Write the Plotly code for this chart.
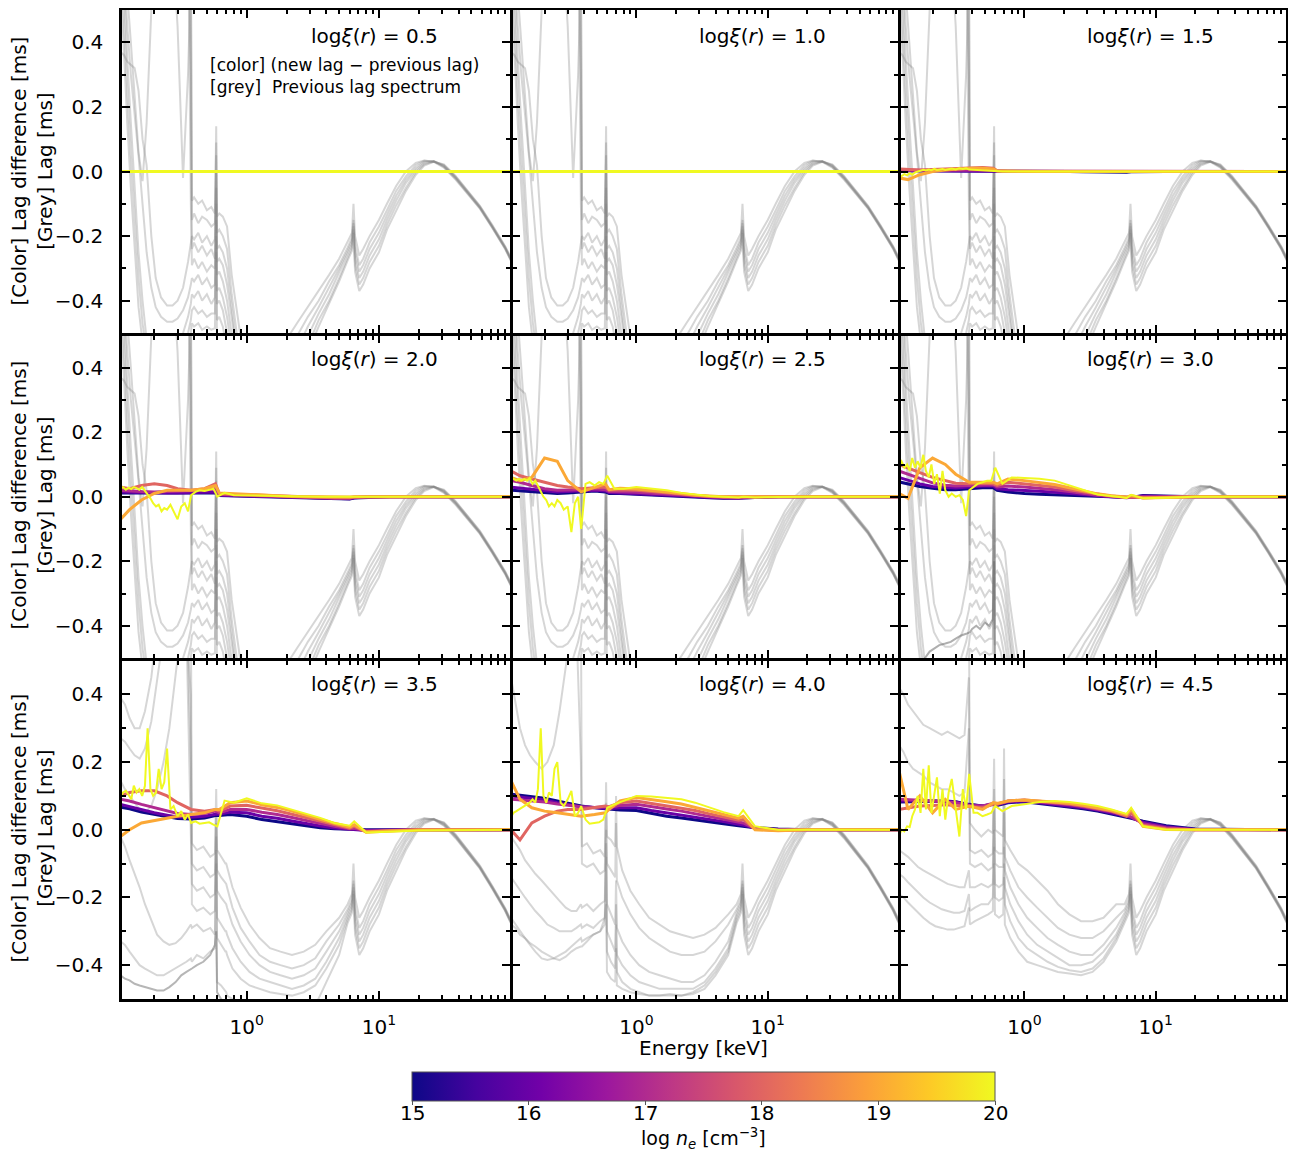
import math
import plotly.graph_objects as go
from plotly.colors import sample_colorscale

# ---------------- data ----------------
XI_LABELS = ["0.5", "1.0", "1.5", "2.0", "2.5", "3.0", "3.5", "4.0", "4.5"]
LOG_NE = [15, 16, 17, 18, 19, 20]

# grey: previous lag spectra, low-energy part (rows 1-2)
GA_E = [0.111, 0.118, 0.125, 0.133, 0.142, 0.152, 0.163, 0.175, 0.19, 0.205, 0.225, 0.25, 0.275, 0.30, 0.33, 0.36,
        0.378, 0.385, 0.40, 0.43, 0.46, 0.50, 0.54, 0.575, 0.588, 0.595, 0.62, 0.66, 0.71, 0.77, 0.84, 0.95]
GA1 = [0.62, 0.66, 0.70, 0.75, 0.80, 0.80, 0.80, 0.80, 0.80, 0.80, 0.80, 0.80, 0.80, 0.80, 0.80, 0.80, 0.80, -0.09,
       -0.08, -0.10, -0.09, -0.12, -0.11, -0.13, 0.14, -0.14, -0.13, -0.14, -0.17, -0.32, -0.43, -0.58]
GA2 = [0.90, 0.70, 0.55, 0.40, 0.22, 0.06, -0.03, 0.15, 0.50, 0.70, 0.80, 0.80, 0.70, 0.45, -0.02, 0.30, 0.60, -0.15,
       -0.13, -0.16, -0.14, -0.15, -0.17, -0.16, 0.09, -0.19, -0.18, -0.20, -0.24, -0.38, -0.50, -0.65]
GA3 = [0.37, 0.36, 0.34, 0.33, 0.32, 0.25, 0.10, 0.02, -0.20, -0.33, -0.39, -0.415, -0.415, -0.40, -0.36, -0.28,
       -0.22, -0.20, -0.21, -0.19, -0.22, -0.20, -0.23, -0.21, 0.05, -0.24, -0.23, -0.25, -0.30, -0.43, -0.55, -0.70]
GA4 = [0.70, 0.72, 0.75, 0.78, 0.80, 0.80, 0.80, 0.80, 0.80, 0.80, 0.80, 0.80, 0.80, 0.80, 0.80, 0.80, 0.30, -0.24,
       -0.22, -0.25, -0.23, -0.26, -0.24, -0.27, 0.00, -0.28, -0.27, -0.29, -0.35, -0.47, -0.58, -0.72]
GA5 = [0.75, 0.78, 0.80, 0.80, 0.80, 0.80, 0.80, 0.80, 0.80, 0.80, 0.80, 0.80, 0.80, 0.80, 0.80, 0.80, -0.10, -0.29,
       -0.27, -0.30, -0.28, -0.31, -0.29, -0.30, -0.05, -0.32, -0.31, -0.34, -0.40, -0.52, -0.62, -0.75]
GA6 = [0.80, 0.60, 0.45, 0.30, 0.18, 0.05, -0.10, -0.25, -0.36, -0.42, -0.45, -0.465, -0.465, -0.455, -0.43, -0.39,
       -0.35, -0.33, -0.34, -0.32, -0.35, -0.33, -0.36, -0.35, -0.10, -0.37, -0.36, -0.39, -0.45, -0.56, -0.66,
       -0.80]
GA7 = [0.80, 0.55, 0.35, 0.15, -0.05, -0.25, -0.40, -0.52, -0.58, -0.60, -0.61, -0.60, -0.58, -0.55, -0.50, -0.45,
       -0.41, -0.38, -0.39, -0.37, -0.40, -0.38, -0.41, -0.39, -0.15, -0.41, -0.40, -0.43, -0.50, -0.60, -0.70,
       -0.82]
GA8 = [0.70, 0.45, 0.25, 0.05, -0.15, -0.33, -0.47, -0.56, -0.62, -0.64, -0.65, -0.64, -0.62, -0.59, -0.55, -0.50,
       -0.46, -0.43, -0.42, -0.44, -0.43, -0.45, -0.44, -0.44, -0.20, -0.46, -0.45, -0.48, -0.55, -0.65, -0.75,
       -0.85]
GA9 = [0.60, 0.35, 0.15, -0.05, -0.25, -0.42, -0.53, -0.60, -0.66, -0.68, -0.69, -0.68, -0.66, -0.63, -0.59, -0.54,
       -0.50, -0.47, -0.48, -0.47, -0.49, -0.48, -0.49, -0.485, -0.25, -0.50, -0.51, -0.54, -0.60, -0.70, -0.80,
       -0.90]
GA_X = [-0.80, -0.75, -0.70, -0.65, -0.60, -0.56, -0.53, -0.50, -0.48, -0.47, -0.46, -0.455, -0.45, -0.44, -0.43,
        -0.425, -0.42, -0.42, -0.41, -0.40, -0.41, -0.39, -0.40, -0.38, -0.20, -0.50, -0.55, -0.60, -0.65, -0.70,
        -0.75, -0.80]

# grey: high-energy family (all panels)
GH_E = [1.6, 2.0, 2.4, 2.9, 3.5, 4.2, 5.0, 5.8, 6.25, 6.42, 6.6, 7.1, 7.6, 8.5, 10, 11.5, 13.5, 16, 19, 22, 26, 31,
        38, 47, 58, 72, 90, 102]
GH1 = [-0.60, -0.52, -0.47, -0.42, -0.37, -0.32, -0.27, -0.22, -0.19, -0.10, -0.20, -0.26, -0.24, -0.20, -0.15,
       -0.10, -0.045, 0.000, 0.027, 0.034, 0.030, 0.012, -0.025, -0.070, -0.115, -0.175, -0.240, -0.285]
GH2 = [-0.65, -0.57, -0.51, -0.45, -0.40, -0.34, -0.29, -0.235, -0.205, -0.15, -0.23, -0.29, -0.27, -0.22, -0.17,
       -0.12, -0.06, -0.015, 0.020, 0.033, 0.031, 0.014, -0.022, -0.068, -0.113, -0.173, -0.238, -0.283]
GH3 = [-0.70, -0.61, -0.55, -0.48, -0.42, -0.36, -0.30, -0.245, -0.215, -0.16, -0.25, -0.31, -0.29, -0.24, -0.19,
       -0.135, -0.075, -0.025, 0.012, 0.030, 0.032, 0.016, -0.020, -0.066, -0.112, -0.172, -0.237, -0.282]
GH4 = [-0.75, -0.66, -0.58, -0.51, -0.44, -0.38, -0.31, -0.255, -0.225, -0.17, -0.27, -0.33, -0.31, -0.26, -0.21,
       -0.15, -0.09, -0.035, 0.005, 0.026, 0.032, 0.018, -0.018, -0.064, -0.110, -0.170, -0.235, -0.280]
GH5 = [-0.80, -0.70, -0.62, -0.54, -0.46, -0.40, -0.33, -0.265, -0.235, -0.18, -0.29, -0.35, -0.33, -0.28, -0.23,
       -0.165, -0.105, -0.05, -0.002, 0.022, 0.031, 0.020, -0.016, -0.062, -0.108, -0.168, -0.233, -0.278]
GH6 = [-0.85, -0.74, -0.65, -0.56, -0.48, -0.41, -0.34, -0.275, -0.245, -0.19, -0.31, -0.37, -0.35, -0.30, -0.25,
       -0.18, -0.12, -0.06, -0.010, 0.018, 0.030, 0.022, -0.014, -0.060, -0.106, -0.166, -0.231, -0.276]

# grey: row 3 low/mid energy parts
GR_E = [0.111, 0.12, 0.13, 0.142, 0.155, 0.17, 0.19, 0.21, 0.235, 0.26, 0.29, 0.32, 0.35, 0.378, 0.385, 0.42, 0.47,
        0.53, 0.575, 0.588, 0.597, 0.64, 0.69, 0.70, 0.71, 0.78, 0.9, 1.05, 1.25, 1.5, 1.8, 2.2, 2.7, 3.3, 4.0, 5.0]
GC1 = [0.70, 0.70, 0.70, 0.70, 0.70, 0.70, 0.70, 0.70, 0.70, 0.70, 0.70, 0.70, 0.70, 0.70, -0.04, -0.06, -0.05,
       -0.08, -0.07, 0.12, -0.06, -0.08, -0.10, -0.10, -0.11, -0.17, -0.23, -0.28, -0.32, -0.35, -0.36, -0.37,
       -0.36, -0.34, -0.30, -0.26]
GC2 = [0.39, 0.37, 0.33, 0.30, 0.30, 0.35, 0.45, 0.60, 0.70, 0.70, 0.70, 0.70, 0.70, 0.20, -0.10, -0.12, -0.11,
       -0.14, -0.13, 0.06, -0.12, -0.14, -0.16, -0.16, -0.17, -0.23, -0.29, -0.33, -0.37, -0.39, -0.40, -0.41,
       -0.40, -0.38, -0.33, -0.28]
GC3 = [0.27, 0.26, 0.24, 0.22, 0.21, 0.24, 0.32, 0.45, 0.60, 0.70, 0.70, 0.70, 0.60, -0.05, -0.16, -0.18, -0.17,
       -0.20, -0.19, 0.02, -0.18, -0.20, -0.22, -0.22, -0.23, -0.28, -0.33, -0.37, -0.40, -0.42, -0.43, -0.44,
       -0.43, -0.41, -0.36, -0.30]
GC4 = [0.145, 0.12, 0.10, 0.08, 0.06, 0.05, 0.07, 0.12, 0.20, 0.30, 0.45, 0.60, 0.60, 0.40, -0.22, -0.24, -0.23,
       -0.25, -0.24, -0.02, -0.26, -0.28, -0.30, -0.30, -0.31, -0.35, -0.39, -0.42, -0.44, -0.45, -0.46, -0.47,
       -0.46, -0.44, -0.39, -0.32]
GC5 = [-0.02, -0.05, -0.09, -0.13, -0.17, -0.22, -0.27, -0.31, -0.33, -0.34, -0.335, -0.32, -0.30, -0.28, -0.29,
       -0.28, -0.30, -0.29, -0.31, -0.06, -0.32, -0.34, -0.36, -0.36, -0.37, -0.41, -0.44, -0.46, -0.47, -0.48,
       -0.485, -0.49, -0.48, -0.46, -0.41, -0.34]
GC6 = [-0.33, -0.34, -0.36, -0.38, -0.40, -0.41, -0.42, -0.43, -0.43, -0.42, -0.41, -0.40, -0.39, -0.38, -0.39,
       -0.37, -0.38, -0.36, -0.35, -0.10, -0.45, -0.46, -0.48, -0.48, -0.49, -0.50, -0.52, -0.53, -0.54, -0.55,
       -0.55, -0.55, -0.54, -0.52, -0.45, -0.37]
GC7 = [-0.43, -0.44, -0.445, -0.455, -0.46, -0.465, -0.47, -0.475, -0.475, -0.465, -0.45, -0.43, -0.42, -0.41,
       -0.41, -0.40, -0.39, -0.37, -0.34, -0.30, -0.48, -0.50, -0.52, -0.52, -0.53, -0.56, -0.60, -0.62, -0.64,
       -0.65, -0.65, -0.64, -0.62, -0.60, -0.58, -0.56]
GD1 = [0.70, 0.70, 0.70, 0.70, 0.70, 0.70, 0.70, 0.70, 0.70, 0.70, 0.70, 0.70, 0.70, 0.70, -0.05, -0.04, -0.07,
       -0.06, -0.08, 0.14, -0.02, -0.03, -0.05, 0.10, -0.05, -0.12, -0.18, -0.22, -0.26, -0.28, -0.30, -0.31,
       -0.32, -0.31, -0.29, -0.25]
GD2 = [0.45, 0.38, 0.30, 0.25, 0.22, 0.20, 0.18, 0.20, 0.25, 0.35, 0.50, 0.60, 0.60, 0.20, -0.10, -0.11, -0.10,
       -0.13, -0.12, 0.08, -0.10, -0.12, -0.14, 0.02, -0.15, -0.20, -0.25, -0.29, -0.32, -0.34, -0.36, -0.37,
       -0.37, -0.36, -0.33, -0.28]
GD3 = [-0.02, -0.04, -0.06, -0.09, -0.11, -0.13, -0.15, -0.17, -0.19, -0.21, -0.23, -0.24, -0.24, -0.22, -0.23,
       -0.22, -0.24, -0.22, -0.21, 0.00, -0.22, -0.25, -0.28, -0.15, -0.29, -0.33, -0.37, -0.40, -0.42, -0.43,
       -0.44, -0.45, -0.45, -0.43, -0.39, -0.33]
GD4 = [-0.14, -0.16, -0.18, -0.20, -0.22, -0.24, -0.26, -0.28, -0.29, -0.30, -0.30, -0.30, -0.29, -0.28, -0.29,
       -0.28, -0.29, -0.27, -0.26, -0.04, -0.30, -0.33, -0.36, -0.22, -0.37, -0.40, -0.43, -0.45, -0.46, -0.47,
       -0.47, -0.47, -0.47, -0.45, -0.41, -0.35]
GD5 = [-0.26, -0.28, -0.30, -0.32, -0.34, -0.36, -0.38, -0.385, -0.38, -0.37, -0.36, -0.345, -0.33, -0.32, -0.33,
       -0.32, -0.31, -0.30, -0.28, -0.08, -0.36, -0.39, -0.41, -0.28, -0.42, -0.45, -0.47, -0.48, -0.49, -0.49,
       -0.485, -0.49, -0.48, -0.46, -0.42, -0.36]
GD6 = [-0.28, -0.29, -0.31, -0.32, -0.335, -0.345, -0.36, -0.37, -0.38, -0.385, -0.375, -0.36, -0.35, -0.345,
       -0.345, -0.33, -0.31, -0.30, -0.26, -0.22, -0.42, -0.44, -0.45, -0.35, -0.46, -0.47, -0.48, -0.485, -0.49,
       -0.49, -0.49, -0.49, -0.485, -0.47, -0.43, -0.37]
GE1 = [0.70, 0.70, 0.70, 0.70, 0.70, 0.70, 0.70, 0.70, 0.70, 0.70, 0.70, 0.70, 0.70, 0.70, 0.02, 0.00, -0.02, 0.00,
       -0.01, 0.21, 0.00, -0.01, -0.02, 0.24, -0.03, -0.06, -0.10, -0.12, -0.15, -0.18, -0.22, -0.25, -0.27, -0.27,
       -0.26, -0.22]
GE2 = [0.42, 0.40, 0.37, 0.35, 0.33, 0.31, 0.30, 0.29, 0.28, 0.29, 0.28, 0.27, 0.28, 0.45, -0.06, -0.07, -0.06,
       -0.08, -0.07, 0.12, -0.06, -0.07, -0.07, 0.15, -0.08, -0.12, -0.17, -0.20, -0.23, -0.26, -0.29, -0.31,
       -0.32, -0.32, -0.30, -0.26]
GE3 = [0.25, 0.23, 0.20, 0.18, 0.17, 0.16, 0.14, 0.13, 0.12, 0.12, 0.11, 0.10, 0.11, 0.30, -0.10, -0.11, -0.10,
       -0.12, -0.11, 0.06, -0.10, -0.11, -0.11, 0.05, -0.12, -0.17, -0.22, -0.26, -0.29, -0.32, -0.34, -0.36,
       -0.37, -0.37, -0.34, -0.29]
GE4 = [-0.06, -0.07, -0.08, -0.095, -0.11, -0.12, -0.13, -0.14, -0.15, -0.16, -0.165, -0.17, -0.17, -0.12, -0.17,
       -0.17, -0.16, -0.17, -0.16, 0.00, -0.16, -0.17, -0.16, -0.05, -0.17, -0.22, -0.27, -0.31, -0.34, -0.36,
       -0.38, -0.40, -0.40, -0.39, -0.36, -0.31]
GE5 = [-0.13, -0.14, -0.155, -0.17, -0.185, -0.20, -0.215, -0.225, -0.235, -0.24, -0.245, -0.245, -0.24, -0.19,
       -0.24, -0.23, -0.22, -0.22, -0.20, -0.05, -0.20, -0.21, -0.20, -0.10, -0.22, -0.27, -0.32, -0.35, -0.37,
       -0.39, -0.405, -0.415, -0.42, -0.41, -0.38, -0.32]
GE6 = [-0.19, -0.20, -0.215, -0.23, -0.245, -0.26, -0.275, -0.285, -0.29, -0.295, -0.295, -0.29, -0.285, -0.23,
       -0.28, -0.27, -0.26, -0.25, -0.24, -0.10, -0.25, -0.26, -0.25, -0.14, -0.28, -0.32, -0.36, -0.39, -0.40,
       -0.41, -0.42, -0.425, -0.43, -0.42, -0.39, -0.33]

# colour: lag differences
FLAT_E = [0.111, 102]
FLAT_LAG = [0.0, 0.0]
ES = [0.111, 0.13, 0.16, 0.2, 0.25, 0.3, 0.38, 0.48, 0.58, 0.62, 0.75, 1.0, 1.3, 1.7, 2.2, 2.8, 3.6, 4.6, 6.0, 6.5,
      8.0, 12, 20, 102]
EN = [0.111, 0.116, 0.122, 0.128, 0.134, 0.14, 0.147, 0.154, 0.162, 0.17, 0.178, 0.187, 0.196, 0.206, 0.216, 0.227,
      0.238, 0.25, 0.265, 0.28, 0.3, 0.32, 0.34, 0.36, 0.38, 0.41, 0.44, 0.48, 0.52, 0.56, 0.6, 0.68, 0.8, 1.0]
ET = [1.3, 1.7, 2.2, 2.8, 3.6, 4.6, 6.0, 6.5, 8.0, 12, 20, 102]

S15_N15 = [0.002, 0.002, 0.002, 0.002, 0.002, 0.002, 0.002, 0.002, 0.002, 0.0, 0.0, 0.0, 0.0, 0.0, 0.0, -0.001,
           -0.002, -0.002, -0.002, -0.001, 0.0, 0.0, 0.0, 0.0]
S15_N16 = [0.003, 0.003, 0.003, 0.003, 0.003, 0.003, 0.003, 0.003, 0.003, 0.001, 0.0, 0.0, 0.0, 0.0, 0.0, -0.001,
           -0.001, -0.002, -0.002, -0.001, 0.0, 0.0, 0.0, 0.0]
S15_N17 = [0.005, 0.004, 0.004, 0.004, 0.004, 0.004, 0.005, 0.005, 0.005, 0.001, 0.001, 0.0, 0.0, 0.0, 0.0, 0.0,
           -0.001, -0.001, -0.001, 0.0, 0.0, 0.0, 0.0, 0.0]
S15_N18 = [0.008, 0.006, 0.005, 0.006, 0.008, 0.010, 0.012, 0.012, 0.010, 0.002, 0.001, 0.001, 0.0, 0.0, 0.0, 0.0,
           0.0, 0.0, 0.0, 0.0, 0.0, 0.0, 0.0, 0.0]
S15_N19 = [-0.020, -0.025, -0.010, 0.0, 0.005, 0.008, 0.010, 0.010, 0.008, 0.002, 0.001, 0.001, 0.0, 0.0, 0.0, 0.0,
           0.0, 0.0, 0.0, 0.0, 0.0, 0.0, 0.0, 0.0]
N15_N20 = [-0.010, -0.015, -0.008, -0.012, -0.005, -0.010, -0.003, 0.000, 0.002, 0.005, 0.003, 0.006, 0.004, 0.008,
           0.005, 0.006, 0.008, 0.005, 0.007, 0.009, 0.006, 0.010, 0.008, 0.010, 0.006, 0.005, 0.004, 0.003, 0.004,
           0.002, 0.000, 0.000, 0.000, 0.000]
T15_N20 = [0.0, 0.0, 0.0, 0.0, 0.0, 0.0, 0.0, 0.0, 0.0, 0.0, 0.0, 0.0]

S20_N15 = [0.012, 0.012, 0.011, 0.010, 0.010, 0.010, 0.010, 0.010, 0.012, 0.004, 0.003, 0.002, 0.001, 0.000, -0.002,
           -0.004, -0.006, -0.007, -0.007, -0.004, -0.002, 0.0, 0.0, 0.0]
S20_N16 = [0.015, 0.014, 0.013, 0.012, 0.012, 0.012, 0.013, 0.013, 0.015, 0.005, 0.004, 0.003, 0.002, 0.000, -0.002,
           -0.003, -0.005, -0.006, -0.006, -0.003, -0.001, 0.0, 0.0, 0.0]
S20_N17 = [0.020, 0.018, 0.016, 0.015, 0.016, 0.017, 0.018, 0.020, 0.025, 0.007, 0.006, 0.004, 0.003, 0.001, -0.001,
           -0.002, -0.004, -0.005, -0.005, -0.002, -0.001, 0.0, 0.0, 0.0]
S20_N18 = [0.030, 0.025, 0.035, 0.040, 0.035, 0.025, 0.020, 0.025, 0.040, 0.010, 0.008, 0.006, 0.004, 0.002, 0.000,
           -0.001, -0.002, -0.003, -0.003, -0.001, 0.0, 0.0, 0.0, 0.0]
S20_N19 = [-0.070, -0.040, -0.010, 0.010, 0.020, 0.020, 0.020, 0.025, 0.035, 0.012, 0.010, 0.007, 0.005, 0.003,
           0.001, 0.0, 0.0, -0.001, -0.001, 0.0, 0.0, 0.0, 0.0, 0.0]
N20_N20 = [0.026, 0.030, 0.022, 0.028, 0.024, 0.030, 0.027, 0.022, 0.030, 0.018, 0.010, -0.005, -0.020, -0.030,
           -0.025, -0.045, -0.035, -0.040, -0.025, -0.045, -0.070, -0.030, -0.020, -0.045, 0.005, 0.015, 0.020,
           0.018, 0.022, 0.025, 0.000, 0.012, 0.005, 0.004]
T20_N20 = [0.003, 0.002, 0.001, 0.0, 0.0, 0.0, 0.0, 0.0, 0.0, 0.0, 0.0, 0.0]

S25_N15 = [0.020, 0.018, 0.015, 0.012, 0.010, 0.012, 0.015, 0.018, 0.015, 0.010, 0.010, 0.008, 0.006, 0.004, 0.002,
           0.000, -0.003, -0.005, -0.006, -0.004, -0.002, 0.0, 0.0, 0.0]
S25_N16 = [0.030, 0.027, 0.022, 0.018, 0.015, 0.016, 0.018, 0.020, 0.018, 0.013, 0.012, 0.010, 0.008, 0.006, 0.003,
           0.001, -0.002, -0.004, -0.005, -0.003, -0.002, 0.0, 0.0, 0.0]
S25_N17 = [0.050, 0.045, 0.035, 0.025, 0.020, 0.020, 0.022, 0.025, 0.022, 0.016, 0.016, 0.014, 0.011, 0.008, 0.005,
           0.002, 0.000, -0.002, -0.003, -0.002, -0.001, 0.0, 0.0, 0.0]
S25_N18 = [0.080, 0.065, 0.055, 0.045, 0.035, 0.030, 0.025, 0.028, 0.030, 0.020, 0.022, 0.020, 0.016, 0.012, 0.008,
           0.004, 0.001, 0.000, -0.001, 0.0, 0.0, 0.0, 0.0, 0.0]
S25_N19 = [0.060, 0.050, 0.060, 0.120, 0.110, 0.050, 0.015, 0.030, 0.040, 0.022, 0.026, 0.024, 0.020, 0.015, 0.010,
           0.005, 0.002, 0.0, 0.0, 0.0, 0.0, 0.0, 0.0, 0.0]
N25_N20 = [0.060, 0.055, 0.050, 0.055, 0.050, 0.055, 0.050, 0.058, 0.040, 0.050, 0.035, 0.020, 0.000, -0.010,
           -0.030, -0.020, -0.030, -0.010, -0.020, -0.040, -0.030, -0.110, -0.020, 0.000, -0.100, 0.040, 0.045,
           0.035, 0.045, 0.040, 0.065, 0.025, 0.025, 0.030]
T25_N20 = [0.026, 0.020, 0.012, 0.006, 0.002, 0.000, -0.002, 0.000, -0.002, -0.001, 0.0, 0.0]

S30_N15 = [0.046, 0.040, 0.032, 0.026, 0.022, 0.022, 0.025, 0.028, 0.028, 0.020, 0.015, 0.010, 0.008, 0.006, 0.004,
           0.002, 0.001, 0.000, -0.002, -0.002, 0.004, 0.002, 0.0, 0.0]
S30_N16 = [0.060, 0.052, 0.040, 0.032, 0.028, 0.027, 0.030, 0.033, 0.033, 0.025, 0.022, 0.020, 0.017, 0.014, 0.010,
           0.006, 0.003, 0.000, -0.003, -0.002, 0.002, 0.001, 0.0, 0.0]
S30_N17 = [0.080, 0.070, 0.055, 0.043, 0.036, 0.033, 0.035, 0.037, 0.037, 0.030, 0.033, 0.030, 0.027, 0.022, 0.016,
           0.010, 0.005, 0.001, -0.002, -0.002, 0.000, -0.001, 0.0, 0.0]
S30_N18 = [0.100, 0.090, 0.075, 0.060, 0.050, 0.042, 0.040, 0.042, 0.040, 0.035, 0.045, 0.040, 0.036, 0.030, 0.022,
           0.015, 0.007, 0.002, -0.002, 0.000, -0.003, -0.002, 0.0, 0.0]
S30_N19 = [0.010, -0.005, 0.090, 0.120, 0.100, 0.070, 0.045, 0.045, 0.045, 0.040, 0.055, 0.050, 0.045, 0.038, 0.028,
           0.018, 0.009, 0.003, -0.001, 0.004, -0.004, -0.002, 0.0, 0.0]
N30_N20 = [0.100, 0.110, 0.090, 0.100, 0.080, 0.120, 0.090, 0.110, 0.090, 0.130, 0.080, 0.060, 0.100, 0.040, 0.070,
           0.010, 0.080, 0.020, 0.000, 0.010, 0.000, 0.005, -0.010, -0.060, 0.020, 0.030, 0.040, 0.045, 0.050,
           0.050, 0.090, 0.040, 0.060, 0.058]
T30_N20 = [0.056, 0.050, 0.035, 0.020, 0.007, 0.002, -0.004, 0.006, -0.005, -0.003, 0.0, 0.0]

S35_N15 = [0.067, 0.062, 0.052, 0.045, 0.038, 0.033, 0.032, 0.035, 0.042, 0.042, 0.045, 0.040, 0.030, 0.024, 0.017,
           0.011, 0.006, 0.003, 0.001, 0.001, 0.0, 0.0, 0.0, 0.0]
S35_N16 = [0.075, 0.068, 0.058, 0.050, 0.043, 0.038, 0.037, 0.040, 0.046, 0.046, 0.052, 0.050, 0.040, 0.034, 0.026,
           0.018, 0.011, 0.005, 0.001, 0.001, -0.002, -0.001, 0.0, 0.0]
S35_N17 = [0.090, 0.085, 0.075, 0.065, 0.055, 0.048, 0.045, 0.048, 0.055, 0.050, 0.060, 0.060, 0.052, 0.045, 0.036,
           0.027, 0.018, 0.010, 0.003, 0.004, -0.004, -0.002, 0.0, 0.0]
S35_N18 = [0.100, 0.110, 0.115, 0.115, 0.100, 0.080, 0.060, 0.055, 0.060, 0.055, 0.070, 0.072, 0.064, 0.056, 0.046,
           0.036, 0.025, 0.015, 0.005, 0.010, -0.006, -0.003, 0.0, 0.0]
S35_N19 = [-0.020, 0.000, 0.020, 0.027, 0.035, 0.040, 0.045, 0.050, 0.060, 0.060, 0.080, 0.085, 0.074, 0.066, 0.055,
           0.044, 0.031, 0.019, 0.008, 0.015, -0.007, -0.004, -0.001, 0.0]
N35_N20 = [0.096, 0.110, 0.115, 0.100, 0.090, 0.130, 0.110, 0.120, 0.100, 0.130, 0.300, 0.120, 0.100, 0.110, 0.180,
           0.120, 0.140, 0.240, 0.060, 0.070, 0.040, 0.055, 0.030, 0.045, 0.020, 0.025, 0.018, 0.020, 0.022, 0.015,
           0.010, 0.086, 0.080, 0.093]
T35_N20 = [0.078, 0.072, 0.060, 0.048, 0.035, 0.020, 0.012, 0.025, -0.008, -0.006, -0.002, 0.0]

S40_N15 = [0.105, 0.102, 0.098, 0.093, 0.085, 0.078, 0.070, 0.065, 0.062, 0.060, 0.058, 0.057, 0.048, 0.040, 0.035,
           0.030, 0.024, 0.018, 0.012, 0.010, 0.006, 0.002, 0.0, 0.0]
S40_N16 = [0.100, 0.097, 0.093, 0.088, 0.080, 0.074, 0.068, 0.066, 0.064, 0.062, 0.065, 0.065, 0.057, 0.050, 0.045,
           0.038, 0.031, 0.024, 0.016, 0.014, 0.005, 0.001, 0.0, 0.0]
S40_N17 = [0.090, 0.088, 0.085, 0.082, 0.076, 0.072, 0.068, 0.066, 0.068, 0.065, 0.072, 0.075, 0.067, 0.061, 0.055,
           0.047, 0.039, 0.031, 0.022, 0.020, 0.004, 0.0, 0.0, 0.0]
S40_N18 = [0.000, -0.030, 0.020, 0.040, 0.055, 0.060, 0.060, 0.065, 0.070, 0.068, 0.080, 0.085, 0.078, 0.072, 0.065,
           0.057, 0.047, 0.038, 0.028, 0.030, 0.002, -0.002, 0.0, 0.0]
S40_N19 = [0.145, 0.090, 0.065, 0.055, 0.050, 0.045, 0.040, 0.045, 0.050, 0.060, 0.085, 0.095, 0.090, 0.083, 0.076,
           0.066, 0.055, 0.045, 0.034, 0.040, 0.000, -0.003, 0.0, 0.0]
N40_N20 = [0.037, 0.050, 0.055, 0.060, 0.065, 0.070, 0.075, 0.080, 0.090, 0.080, 0.120, 0.300, 0.100, 0.080, 0.110,
           0.100, 0.180, 0.200, 0.080, 0.070, 0.090, 0.115, 0.040, 0.050, 0.070, 0.030, 0.018, 0.020, 0.022, 0.030,
           0.065, 0.075, 0.085, 0.100]
T40_N20 = [0.098, 0.095, 0.090, 0.080, 0.066, 0.052, 0.040, 0.058, 0.010, 0.0, 0.0, 0.0]

S45_N15 = [0.082, 0.083, 0.084, 0.085, 0.085, 0.083, 0.075, 0.070, 0.075, 0.072, 0.080, 0.083, 0.078, 0.072, 0.068,
           0.062, 0.055, 0.047, 0.038, 0.034, 0.025, 0.012, 0.002, 0.0]
S45_N16 = [0.085, 0.086, 0.086, 0.086, 0.085, 0.082, 0.074, 0.070, 0.076, 0.074, 0.082, 0.085, 0.080, 0.075, 0.071,
           0.065, 0.058, 0.050, 0.040, 0.036, 0.022, 0.009, 0.001, 0.0]
S45_N17 = [0.090, 0.088, 0.087, 0.085, 0.083, 0.080, 0.072, 0.070, 0.078, 0.076, 0.084, 0.087, 0.082, 0.078, 0.074,
           0.068, 0.061, 0.053, 0.042, 0.038, 0.018, 0.006, 0.0, 0.0]
S45_N18 = [0.060, 0.065, 0.070, 0.072, 0.074, 0.072, 0.068, 0.065, 0.075, 0.075, 0.085, 0.088, 0.084, 0.080, 0.076,
           0.070, 0.063, 0.055, 0.040, 0.050, 0.013, 0.003, 0.0, 0.0]
S45_N19 = [0.175, 0.060, 0.100, 0.050, 0.090, 0.060, 0.070, 0.060, 0.080, 0.078, 0.085, 0.088, 0.085, 0.082, 0.078,
           0.072, 0.065, 0.057, 0.044, 0.060, 0.010, 0.001, 0.0, 0.0]
N45_N20 = [-0.020, 0.000, -0.005, 0.010, 0.008, 0.040, 0.060, 0.100, 0.050, 0.180, 0.060, 0.190, 0.050, 0.100,
           0.155, 0.040, 0.120, 0.030, 0.110, 0.150, 0.060, -0.020, 0.120, 0.060, 0.165, 0.050, 0.050, 0.040, 0.045,
           0.050, 0.070, 0.055, 0.070, 0.075]
T45_N20 = [0.082, 0.085, 0.082, 0.077, 0.070, 0.060, 0.047, 0.065, 0.010, 0.0, 0.0, 0.0]

# ---------------- assembly ----------------
OFF = 8                     # page body margin
W, H = 1296 - OFF, 1152 - OFF
FONT = "DejaVu Sans"
LW = 2.5


def px(x):
    return (x - OFF) / W


def py(y):
    return 1 - (y - OFF) / H


COL_EDGES = [(122, 510), (510, 898), (898, 1286)]
ROW_EDGES = [(10, 333), (333, 658), (658, 999)]
COLS = [(122, 510), (510 + LW, 898), (898 + LW, 1286)]
ROWS = [(10, 333), (333 + LW, 658), (658 + LW, 999)]
GREY = "rgba(128,128,128,0.32)"
NE_COLORS = sample_colorscale("Plasma", [(n - LOG_NE[0]) / (LOG_NE[-1] - LOG_NE[0]) for n in LOG_NE])

GH = [GH1, GH2, GH3, GH4, GH5, GH6]
GA = [GA1, GA2, GA3, GA4, GA5, GA6, GA7, GA8, GA9]
ROW3_SETS = {6: [GC1, GC2, GC3, GC4, GC5, GC6], 7: [GD1, GD2, GD3, GD4, GD5, GD6], 8: [GE1, GE2, GE3, GE4, GE5, GE6]}

SMOOTH = {
    2: [S15_N15, S15_N16, S15_N17, S15_N18, S15_N19],
    3: [S20_N15, S20_N16, S20_N17, S20_N18, S20_N19],
    4: [S25_N15, S25_N16, S25_N17, S25_N18, S25_N19],
    5: [S30_N15, S30_N16, S30_N17, S30_N18, S30_N19],
    6: [S35_N15, S35_N16, S35_N17, S35_N18, S35_N19],
    7: [S40_N15, S40_N16, S40_N17, S40_N18, S40_N19],
    8: [S45_N15, S45_N16, S45_N17, S45_N18, S45_N19],
}
NOISY = {2: (N15_N20, T15_N20), 3: (N20_N20, T20_N20), 4: (N25_N20, T25_N20), 5: (N30_N20, T30_N20),
         6: (N35_N20, T35_N20), 7: (N40_N20, T40_N20), 8: (N45_N20, T45_N20)}

fig = go.Figure()


def add_line(p, x, y, color, width):
    sx = "" if p == 0 else str(p + 1)
    fig.add_trace(go.Scatter(x=x, y=y, xaxis="x" + sx, yaxis="y" + sx, mode="lines",
                             line=dict(color=color, width=width), showlegend=False, hoverinfo="skip"))


for p in range(9):
    if p < 6:
        for g in GA:
            add_line(p, GA_E, g, GREY, 2)
        if p == 5:
            add_line(p, GA_E, GA_X, "rgba(110,110,110,0.55)", 2)
        for g in GH:
            add_line(p, GH_E, g, GREY, 2)
    else:
        for low, high in zip(ROW3_SETS[p], GH):
            add_line(p, GR_E + GH_E[7:], low + high[7:], GREY, 2)
        if p == 6:
            add_line(p, GR_E, GC7, "rgba(110,110,110,0.5)", 2)
    if p < 2:
        for i, col in enumerate(NE_COLORS):
            add_line(p, FLAT_E, FLAT_LAG, col, 3 if i == len(NE_COLORS) - 1 else 2)
    else:
        for col, s in zip(NE_COLORS[:5], SMOOTH[p]):
            add_line(p, ES, s, col, 3)
        nz, tail = NOISY[p]
        add_line(p, EN + ET, nz + tail, NE_COLORS[5], 2)

# colorbar carrier (outside axis range, clipped)
CB_L, CB_R, CB_T = 412, 995, 1072
fig.add_trace(go.Scatter(
    x=[0.5], y=[5], xaxis="x", yaxis="y", mode="markers", showlegend=False, hoverinfo="skip",
    marker=dict(size=1, color=[LOG_NE[0]], colorscale="Plasma", cmin=LOG_NE[0], cmax=LOG_NE[-1], showscale=True,
                colorbar=dict(orientation="h", x=px((CB_L + CB_R) / 2), xanchor="center", y=py(CB_T),
                              yanchor="top", len=CB_R - CB_L, lenmode="pixels", thickness=29,
                              thicknessmode="pixels", xpad=0, ypad=0, outlinewidth=1, outlinecolor="#555555",
                              tickmode="array", tickvals=LOG_NE, ticks="outside", ticklen=4,
                              tickcolor="#555555", showticklabels=False))))

MINOR_X = [0.2, 0.3, 0.4, 0.5, 0.6, 0.7, 0.8, 0.9, 2, 3, 4, 5, 6, 7, 8, 9, 20, 30, 40, 50, 60, 70, 80, 90]
X_RANGE = [math.log10(0.114), math.log10(98)]
layout = dict(width=W, height=H, margin=dict(l=0, r=0, t=0, b=0, autoexpand=False), paper_bgcolor="white",
              plot_bgcolor="white", font=dict(family=FONT, color="black"))
annotations = []
for p in range(9):
    r, c = divmod(p, 3)
    sx = "" if p == 0 else str(p + 1)
    layout["xaxis" + sx] = dict(
        type="log", range=X_RANGE, domain=[px(COLS[c][0]), px(COLS[c][1])], anchor="y" + sx,
        showline=True, linecolor="black", linewidth=LW, mirror="allticks", showgrid=False, zeroline=False,
        ticks="inside", ticklen=8, tickwidth=2, tickcolor="black",
        tickmode="array", tickvals=[1, 10], ticktext=["10<sup>0</sup>", "10<sup>1</sup>"],
        showticklabels=(r == 2), ticklabelstandoff=8,
        tickfont=dict(family=FONT, size=20, color="black"),
        minor=dict(ticks="inside", ticklen=4.5, tickwidth=1.5, tickcolor="black", tickmode="array",
                   tickvals=MINOR_X, showgrid=False))
    layout["yaxis" + sx] = dict(
        range=[-0.5, 0.5], domain=[py(ROWS[r][1]), py(ROWS[r][0])], anchor="x" + sx,
        showline=True, linecolor="black", linewidth=LW, mirror="allticks", showgrid=False, zeroline=False,
        ticks="inside", ticklen=8, tickwidth=2, tickcolor="black",
        tickmode="array", tickvals=[-0.4, -0.2, 0.0, 0.2, 0.4], ticktext=["−0.4", "−0.2", "0.0", "0.2", "0.4"],
        showticklabels=(c == 0), ticklabelstandoff=12,
        tickfont=dict(family=FONT, size=20, color="black"),
        minor=dict(ticks="inside", ticklen=4.5, tickwidth=1.5, tickcolor="black", tickmode="array",
                   tickvals=[-0.3, -0.1, 0.1, 0.3], showgrid=False))
    annotations.append(dict(
        text="log<i>ξ</i>(<i>r</i>) = " + XI_LABELS[p], xref="paper", yref="paper",
        x=px(COL_EDGES[c][0] + 252), y=py(ROW_EDGES[r][0] + 26), xanchor="center", yanchor="middle",
        showarrow=False, font=dict(family=FONT, size=20, color="black")))

for r in range(3):
    annotations.append(dict(
        text="[Color] Lag difference [ms]<br>[Grey] Lag [ms]", xref="paper", yref="paper",
        x=px(31), y=py((ROW_EDGES[r][0] + ROW_EDGES[r][1]) / 2), xanchor="center", yanchor="middle",
        textangle=-90, showarrow=False, font=dict(family=FONT, size=20, color="black")))

annotations.append(dict(
    text="[color] (new lag − previous lag)<br>[grey]\u00a0\u00a0Previous lag spectrum", xref="paper", yref="paper",
    x=px(208), y=py(76), xanchor="left", yanchor="middle", align="left", showarrow=False,
    font=dict(family=FONT, size=17, color="black")))
annotations.append(dict(
    text="Energy [keV]", xref="paper", yref="paper", x=px(703), y=py(1048), xanchor="center",
    yanchor="middle", showarrow=False, font=dict(family=FONT, size=20, color="black")))
for n in LOG_NE:
    annotations.append(dict(
        text=str(n), xref="paper", yref="paper",
        x=px(CB_L + (n - LOG_NE[0]) / (LOG_NE[-1] - LOG_NE[0]) * (CB_R - CB_L)), y=py(1113),
        xanchor="center", yanchor="middle", showarrow=False, font=dict(family=FONT, size=20, color="black")))
annotations.append(dict(
    text="log <i>n</i><sub><i>e</i></sub> [cm<sup>−3</sup>]", xref="paper", yref="paper", x=px(703),
    y=py(1138), xanchor="center", yanchor="middle", showarrow=False,
    font=dict(family=FONT, size=19, color="black")))

layout["annotations"] = annotations
fig.update_layout(**layout)
fig.write_html("out.html")
